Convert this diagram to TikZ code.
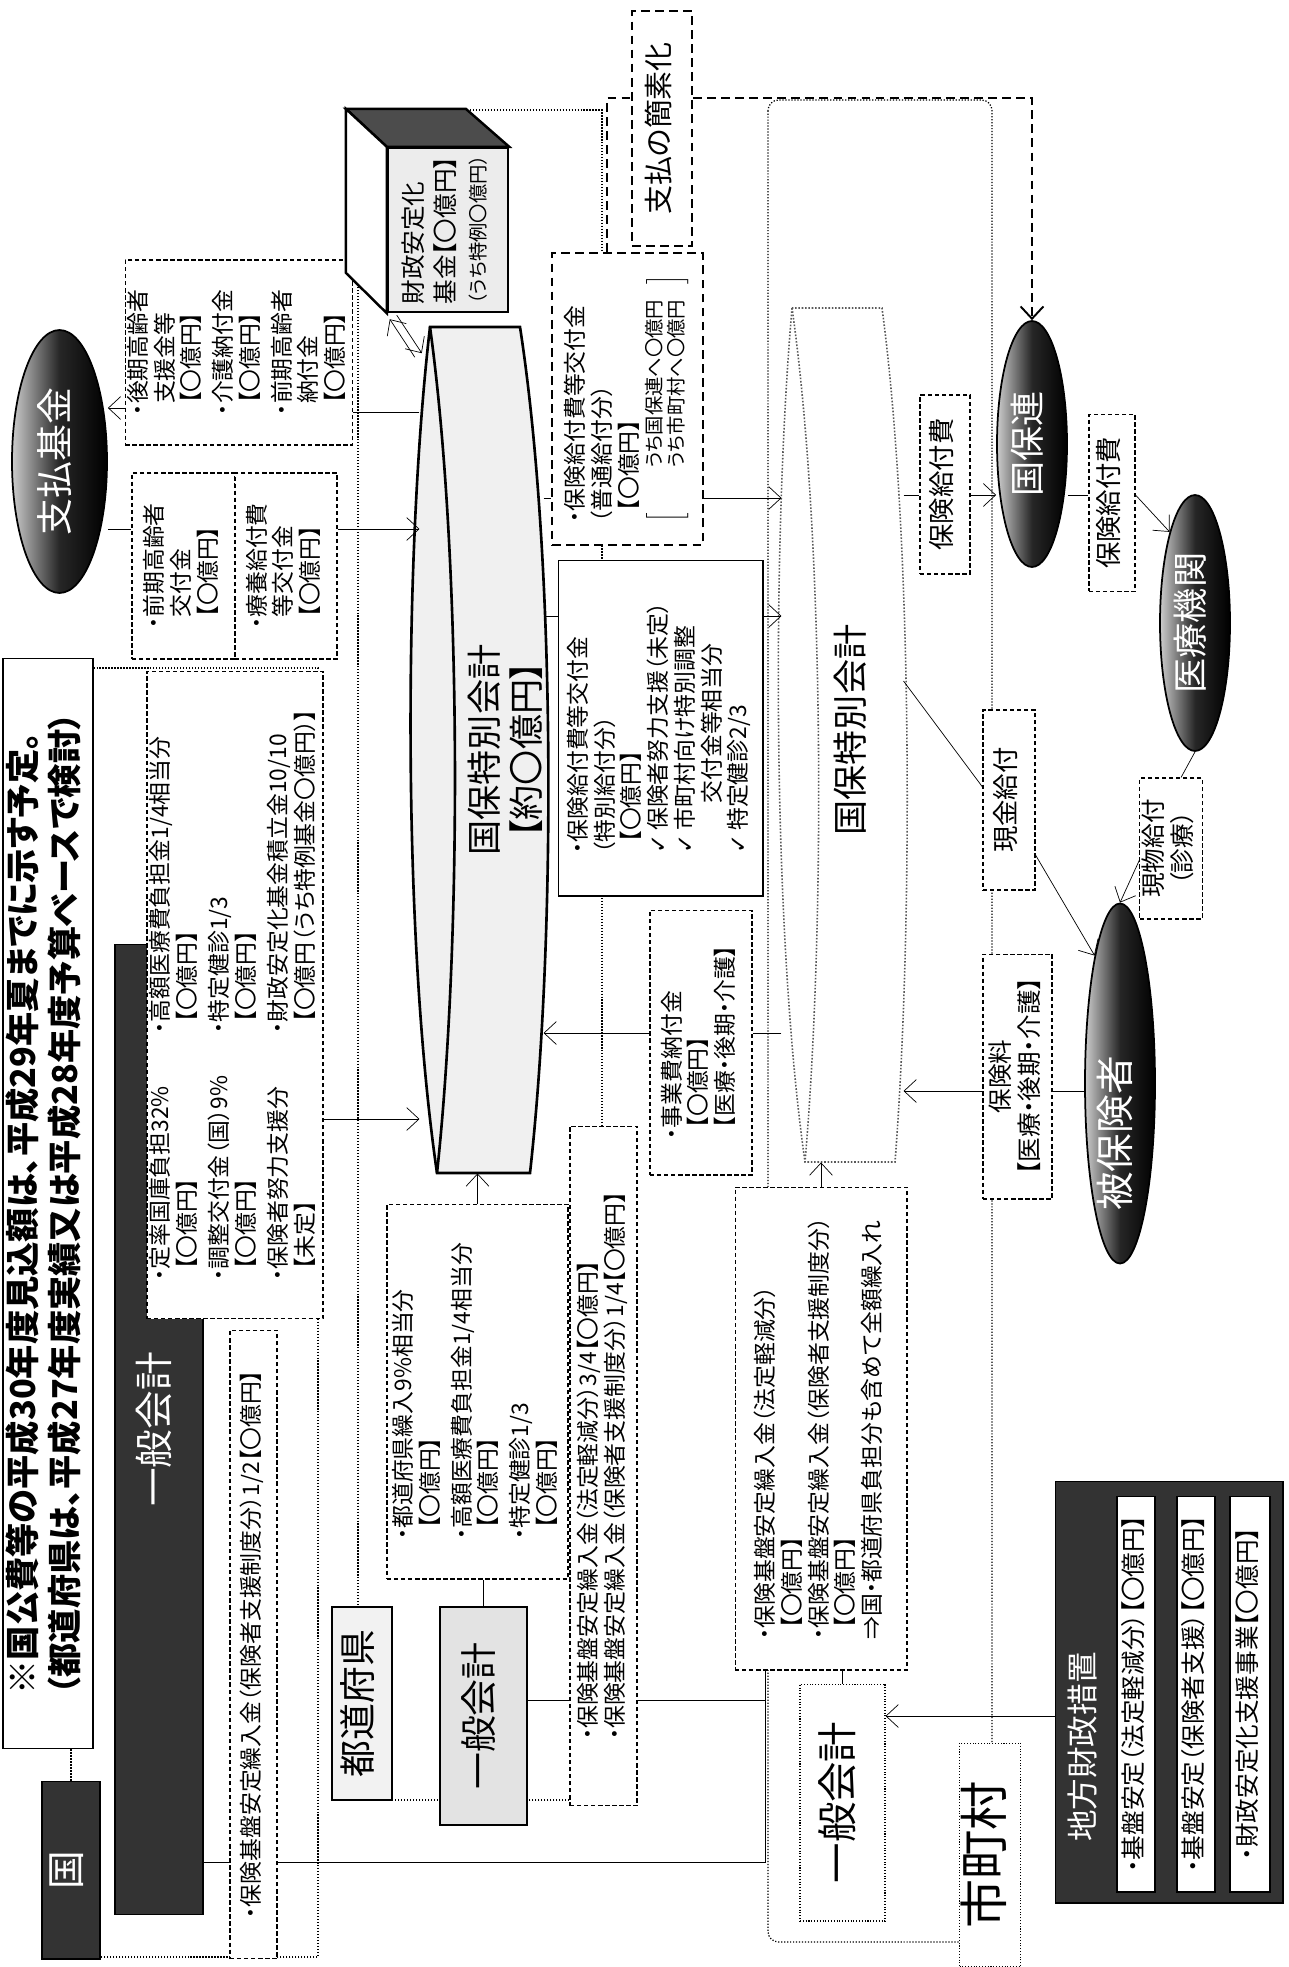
\documentclass[tikz,border=0pt]{standalone}
\usepackage{fontspec}
\setmainfont{Noto Sans CJK JP}[RawFeature=+palt]
\newfontfamily\dejavu{DejaVu Sans}
\usepackage{graphicx}
\usetikzlibrary{arrows.meta,shapes.geometric,backgrounds,calc}

\newcommand{\vt}[1]{\rotatebox{90}{\begin{tabular}{@{}l@{}}#1\end{tabular}}}
\newcommand{\vc}[1]{\rotatebox{90}{\begin{tabular}{@{}c@{}}#1\end{tabular}}}
\newcommand{\ind}{\phantom{・}}
\newcommand{\chk}{{\dejavu ✓}\,}

\begin{document}
\begin{tikzpicture}[x=0.02cm, y=-0.02cm, line width=0.6pt,
    >={Straight Barb[length=7pt,width=13pt]},
    dbox/.style={draw, dash pattern=on 2.5pt off 1.5pt, fill=white, inner sep=1pt, font=\fontsize{13}{14}\selectfont},
    sbox/.style={draw, fill=white, inner sep=1pt, font=\fontsize{13}{14}\selectfont},
    tbox/.style={draw, line width=1.1pt, dash pattern=on 5pt off 3pt, fill=white, inner sep=1pt, font=\fontsize{13}{14}\selectfont},
    darkbox/.style={draw, fill=black!80, text=white, inner sep=1pt},
    darkell/.style={ellipse, draw, line width=1pt, left color=gray!40, right color=black, middle color=black!85, text=white, inner sep=0pt},
    dotbox/.style={draw, densely dotted, fill=white, inner sep=1pt},
    region/.style={densely dotted, line width=0.7pt},
    tdash/.style={line width=1.1pt, dash pattern=on 5pt off 3pt},
  ]
  \useasboundingbox (0,0) rectangle (1288,1967);

  \node[draw, fill=white, minimum width=1.8cm, minimum height=21.82cm, inner sep=1pt,
        font=\fontsize{19.5}{23}\selectfont\bfseries] (title) at (48,1203.5)
    {\vt{※国公費等の平成30年度見込額は、平成29年夏までに示す予定。\\（都道府県は、平成27年度実績又は平成28年度予算ベースで検討）}};
  \node[darkbox, minimum width=1.16cm, minimum height=3.56cm, font=\fontsize{22}{24}\selectfont] (kuni) at (71,1870) {\vt{国}};
  \node[darkbox, minimum width=1.76cm, minimum height=19.42cm, font=\fontsize{22}{24}\selectfont] (kuniGen) at (159,1429.5) {\vt{一般会計}};
  \node[dbox, minimum width=3.52cm, minimum height=12.96cm] (kuniA) at (235,995)
    {\rotatebox{90}{\begin{tabular}{@{}l@{\hspace{24pt}}l@{}}
      ・定率国庫負担32\% & ・高額医療費負担金1/4相当分\\
      \ind【〇億円】 & \ind【〇億円】\\[3pt]
      ・調整交付金（国）9\% & ・特定健診1/3\\
      \ind【〇億円】 & \ind【〇億円】\\[3pt]
      ・保険者努力支援分 & ・財政安定化基金積立金10/10\\
      \ind【未定】 & \ind【〇億円（うち特例基金〇億円）】
    \end{tabular}}};
  \node[dbox, minimum width=0.94cm, minimum height=12.58cm] (kuniB) at (253.5,1644.5)
    {\vt{・保険基盤安定繰入金（保険者支援制度分）1/2【〇億円】}};

  \node[darkell, minimum width=1.9cm, minimum height=5.26cm, font=\fontsize{21}{24}\selectfont] (shiharai) at (59.5,461.5) {\vt{支払基金}};
  \node[dbox, minimum width=4.36cm, minimum height=3.7cm] (kouki) at (239,352.5)
    {\vt{・後期高齢者\\\ind 支援金等\\\ind【〇億円】\\[3pt]・介護納付金\\\ind【〇億円】\\[3pt]・前期高齢者\\\ind 納付金\\\ind【〇億円】}};
  \node[dbox, minimum width=2.06cm, minimum height=3.72cm] (zenkiA) at (183.5,566) {\vt{・前期高齢者\\\ind 交付金\\\ind【〇億円】}};
  \node[dbox, minimum width=2.04cm, minimum height=3.72cm] (zenkiB) at (286,566) {\vt{・療養給付費\\\ind 等交付金\\\ind【〇億円】}};

  \node[draw, line width=1.4pt, fill=gray!15, minimum width=2.4cm, minimum height=3.28cm, inner sep=1pt,
        font=\fontsize{14}{18}\selectfont] (kikin) at (448,230)
    {\vt{財政安定化\\基金【〇億円】\\{\fontsize{11}{12}\selectfont（うち特例〇億円）}}};
  \draw[line width=1.4pt, fill=black!70] (kikin.north west) -- ++(-41,-38) -- ++(120,0) -- (kikin.north east) -- cycle;
  \draw[line width=1.4pt, fill=white] (kikin.north west) -- ++(-41,-38) -- ++(0,164) -- (kikin.south west) -- cycle;

  \node[minimum width=2.46cm, minimum height=16.92cm, inner sep=0pt] (kenCyl) at (481.5,750) {};
  \node[font=\fontsize{20}{23}\selectfont] (kenLbl) at (510,750) {\vc{国保特別会計\\【約〇億円】}};
  \node[minimum width=2.42cm, minimum height=17.08cm, inner sep=0pt] (shiCyl) at (842.5,735) {};
  \node[font=\fontsize{20}{23}\selectfont] (shiLbl) at (855,730) {\vt{国保特別会計}};

  \node[tbox, minimum width=1.2cm, minimum height=4.7cm, font=\fontsize{16.5}{19}\selectfont] (kanso) at (662,128.5) {\vt{支払の簡素化}};
  \node[tbox, minimum width=3.02cm, minimum height=5.84cm] (futsu) at (627.5,399)
    {\vt{・保険給付費等交付金\\（普通給付分）\\\ind【〇億円】\\
     $\left[\hbox{\fontsize{11}{12.5}\selectfont\hspace{0.9cm}\begin{tabular}{@{}l@{}}うち国保連へ〇億円\\うち市町村へ〇億円\end{tabular}\hspace{0.3cm}}\right]$}};
  \node[sbox, minimum width=4.1cm, minimum height=6.72cm] (tokubetsu) at (660.5,728)
    {\vt{・保険給付費等交付金\\（特別給付分）\\\ind【〇億円】\\\chk 保険者努力支援（未定）\\\chk 市町村向け特別調整\\\hspace{2.2em}交付金等相当分\\\chk 特定健診2/3}};
  \node[dbox, minimum width=2.04cm, minimum height=5.3cm] (jigyohi) at (701,1042.5)
    {\vt{・事業費納付金\\\ind【〇億円】\\\ind【医療・後期・介護】}};

  \node[dbox, minimum width=3.62cm, minimum height=7.5cm] (kenD) at (477.5,1391.5)
    {\vt{・都道府県繰入9\%相当分\\\ind【〇億円】\\[3pt]・高額医療費負担金1/4相当分\\\ind【〇億円】\\[3pt]・特定健診1/3\\\ind【〇億円】}};
  \node[draw, line width=1.2pt, fill=gray!22, minimum width=1.74cm, minimum height=4.36cm, font=\fontsize{21}{24}\selectfont] (kenGen) at (483.5,1716) {\vt{一般会計}};
  \node[draw, line width=1.4pt, fill=gray!10, minimum width=1.2cm, minimum height=3.86cm, font=\fontsize{21}{24}\selectfont] (kenLabel) at (362,1703.5) {\vt{都道府県}};
  \node[dbox, minimum width=1.34cm, minimum height=13.6cm] (kenKiban) at (603.5,1466)
    {\vt{・保険基盤安定繰入金（法定軽減分）3/4【〇億円】\\・保険基盤安定繰入金（保険者支援制度分）1/4【〇億円】}};

  \node[dbox, minimum width=3.44cm, minimum height=9.66cm] (shiKiban) at (821,1428.5)
    {\vt{・保険基盤安定繰入金（法定軽減分）\\\ind【〇億円】\\・保険基盤安定繰入金（保険者支援制度分）\\\ind【〇億円】\\⇒国・都道府県負担分も含めて全額繰入れ}};
  \node[dotbox, minimum width=1.7cm, minimum height=4.74cm, font=\fontsize{23}{26}\selectfont] (shiGen) at (842.5,1802.5) {\vt{一般会計}};
  \node[dotbox, minimum width=1.12cm, minimum height=4.48cm, font=\fontsize{28}{30}\selectfont] (shichoson) at (990,1855) {\vt{市町村}};

  \node[draw, fill=black!80, minimum width=4.56cm, minimum height=8.44cm] (chiho) at (1169,1692) {};
  \node[text=white, font=\fontsize{18}{20}\selectfont] (chihoT) at (1086,1747) {\vt{地方財政措置}};
  \node[sbox, minimum width=0.76cm, minimum height=7.92cm, font=\fontsize{14}{16}\selectfont] (chihoA) at (1136,1694) {\vt{・基盤安定（法定軽減分）【〇億円】}};
  \node[sbox, minimum width=0.76cm, minimum height=7.92cm, font=\fontsize{14}{16}\selectfont] (chihoB) at (1196,1694) {\vt{・基盤安定（保険者支援）【〇億円】}};
  \node[sbox, minimum width=0.8cm, minimum height=7.92cm, font=\fontsize{14}{16}\selectfont] (chihoC) at (1250,1694) {\vt{・財政安定化支援事業【〇億円】}};

  \node[darkell, minimum width=1.4cm, minimum height=4.92cm, font=\fontsize{20}{22}\selectfont] (kokuhoren) at (1032,444) {\vt{国保連}};
  \node[dbox, minimum width=1cm, minimum height=3.58cm, font=\fontsize{15}{17}\selectfont] (kyufuP) at (945,484.5) {\vt{保険給付費}};
  \node[dbox, minimum width=0.92cm, minimum height=3.54cm, font=\fontsize{15}{17}\selectfont] (kyufuQ) at (1112,503) {\vt{保険給付費}};
  \node[darkell, minimum width=1.4cm, minimum height=5.12cm, font=\fontsize{20}{22}\selectfont] (iryo) at (1195,623) {\vt{医療機関}};
  \node[dbox, minimum width=1.16cm, minimum height=2.82cm, font=\fontsize{14}{16}\selectfont] (genbutsu) at (1171,848.5) {\vc{現物給付\\（診療）}};
  \node[darkell, minimum width=1.4cm, minimum height=7.14cm, font=\fontsize{22}{24}\selectfont] (hihoken) at (1120,1083.5) {\vt{被保険者\kern2cm}};
  \node[dbox, minimum width=1.04cm, minimum height=3.6cm, font=\fontsize{15}{17}\selectfont] (genkin) at (1009,800) {\vt{現金給付}};
  \node[dbox, minimum width=1.38cm, minimum height=4.9cm, font=\fontsize{14}{16}\selectfont] (hokenryo) at (1017.5,1076.5) {\vc{保険料\\【医療・後期・介護】}};

  \begin{scope}[on background layer]
    \draw[region] (kuni.north |- title.south) -- (kuni.north);
    \draw[region] (title.east |- 0,668) -| (318,1957) -- (kuni.east |- 0,1957);
    \draw[region] (467,110) -| (602,1800) -- (kenLabel.east |- 0,1800);
    \draw[region] (358,272) -- (kenLabel.north -| 358,0);
    \draw[region, rounded corners=6pt] (768,100) rectangle (992,1942);

    \filldraw[fill=gray!12, line width=1.5pt] (430,327) .. controls (403,560) and (403,940) .. (437,1173)
      -- (530,1173) .. controls (556,940) and (556,560) .. (520,327) -- cycle;
    \draw[line width=1.5pt] (430,327) .. controls (462,560) and (462,940) .. (437,1173);
    \filldraw[fill=white, draw=gray!70!black, densely dotted, line width=0.9pt] (792,308) .. controls (772,540) and (772,930) .. (805,1162)
      -- (895,1162) .. controls (913,930) and (913,540) .. (882,308) -- cycle;
    \draw[gray!70!black, densely dotted, line width=0.9pt] (792,308) .. controls (825,540) and (825,930) .. (805,1162);

    \draw[->] (kouki.west |- 0,408) -- (shiharai.east |- 0,408);
    \draw (kenCyl.west |- 0,412) -- (kouki.east |- 0,412);
    \draw (shiharai.east |- 0,529) -- (zenkiA.west |- 0,529);
    \draw[->] (zenkiB.east |- 0,529) -- (kenCyl.west |- 0,529);
    \draw[->] ($(kikin.south west)+(28,44)$) -- ($(kikin.south west)+(3,6)$);
    \draw[->] ($(kikin.south west)+(10,2)$) -- ($(kikin.south west)+(35,40)$);
    \draw[->] (kuniA.east |- 0,1119) -- (kenCyl.west |- 0,1119);
    \draw[->] (kenD.north) -- (kenD.north |- kenCyl.south);
    \draw (kenGen.north) -- (kenGen.north |- kenD.south);
    \coordinate (junc) at (765,1700);
    \draw (kenGen.east |- junc) -- (junc);
    \draw (kuniGen.east |- 0,1862) -| (shiKiban.south -| junc);
    \draw (shiGen.north) -- (shiGen.north |- shiKiban.south);
    \draw[->] (shiKiban.north) -- (shiKiban.north |- shiCyl.south);
    \draw[->] (chiho.west |- 0,1716) -- (shiGen.east |- 0,1716);

    \draw (kenCyl.east |- 0,498) -- (futsu.west |- 0,498);
    \draw[->] (futsu.east |- 0,498) -- (shiCyl.west |- 0,498);
    \draw (kenCyl.east |- 0,616) -- (tokubetsu.west |- 0,616);
    \draw[->] (tokubetsu.east |- 0,616) -- (shiCyl.west |- 0,616);
    \draw (shiCyl.west |- 0,1033) -- (jigyohi.east |- 0,1033);
    \draw[->] (jigyohi.west |- 0,1033) -- (kenCyl.east |- 0,1033);
    \draw[tdash] (futsu.north -| 607,0) |- (kanso.west |- 0,98);
    \draw[tdash, ->] (kanso.east |- 0,98) -| (kokuhoren.north);

    \draw (shiCyl.east |- 0,495) -- (kyufuP.west |- 0,495);
    \draw[->] (kyufuP.east |- 0,495) -- (kokuhoren.west |- 0,495);
    \draw (kokuhoren.east |- 0,495) -- (kyufuQ.west |- 0,495);
    \draw[->] (kyufuQ.east |- 0,495) -- (iryo.north west);
    \draw (iryo.south) -- ($(genbutsu.north)+(10,0)$);
    \draw[->] (genbutsu.west |- 0,860) -- (hihoken.north);
    \draw (shiCyl.east |- 0,681) -- (genkin.west |- 0,787);
    \draw[->] (genkin.east |- 0,855) -- (hihoken.north west);
    \draw (hihoken.west |- 0,1091) -- (hokenryo.east |- 0,1091);
    \draw[->] (hokenryo.west |- 0,1091) -- (shiCyl.east |- 0,1091);
  \end{scope}
\end{tikzpicture}
\end{document}
